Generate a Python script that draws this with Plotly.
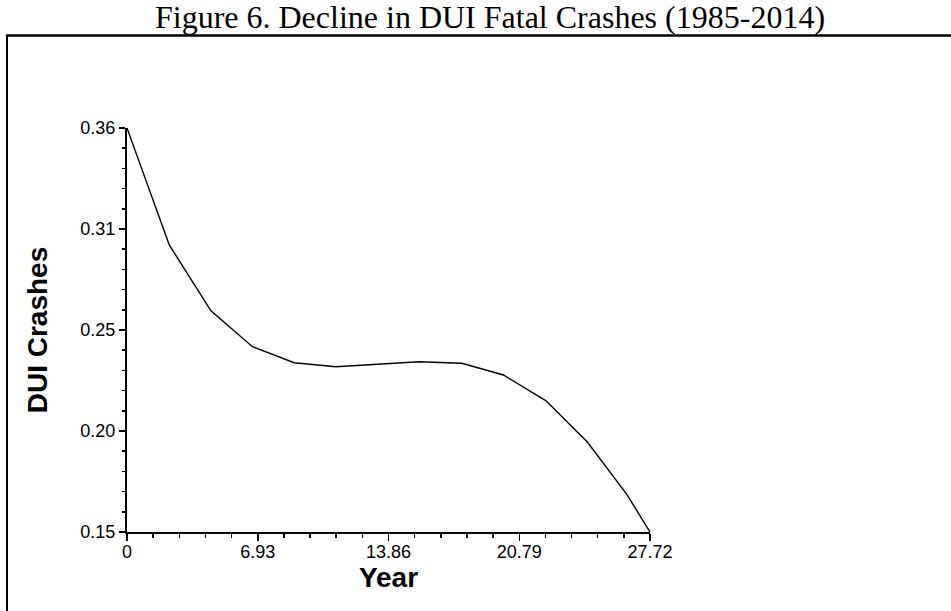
import plotly.graph_objects as go

# ---- data ----
years = [0, 2.24, 4.45, 6.65, 8.86, 11.07, 13.28, 15.48, 17.75, 19.95, 22.21, 24.40, 26.49, 27.72]
crashes = [0.360, 0.2992, 0.2650, 0.2463, 0.2380, 0.2359, 0.2372, 0.2385, 0.2377, 0.2316, 0.2182, 0.1968, 0.1696, 0.150]

x_tickvals = [0, 6.93, 13.86, 20.79, 27.72]
x_ticktext = ["0", "6.93", "13.86", "20.79", "27.72"]
y_tickvals = [0.15, 0.2025, 0.255, 0.3075, 0.36]
y_ticktext = ["0.15", "0.20", "0.25", "0.31", "0.36"]

title_text = "Figure 6. Decline in DUI Fatal Crashes (1985-2014)"
x_title = "Year"
y_title = "DUI Crashes"

# ---- layout geometry (pixels) ----
W, H = 951, 611
L, T = 127, 128
pw, ph = 523, 404
R, B = W - L - pw, H - T - ph

def sx(px):  # screen px -> paper x
    return (px - L) / pw

def sy(py):  # screen px -> paper y
    return (T + ph - py) / ph

fig = go.Figure()
fig.add_trace(go.Scatter(x=years, y=crashes, mode="lines",
                         line=dict(color="black", width=1.4),
                         showlegend=False, hoverinfo="skip", cliponaxis=False))

sans = "Liberation Sans, Arial, sans-serif"
fig.update_layout(
    width=W, height=H,
    margin=dict(l=L, r=R, t=T, b=B, pad=0),
    paper_bgcolor="white", plot_bgcolor="white",
    title=dict(text=title_text, x=490 / W, xanchor="center", xref="container",
               y=1 - 17 / H, yanchor="middle", yref="container",
               font=dict(family="Liberation Serif, Times New Roman, serif", size=32, color="black")),
    xaxis=dict(range=[0, 27.72], tickmode="array", tickvals=x_tickvals, ticktext=x_ticktext,
               showgrid=False, zeroline=False, showline=True, linecolor="black", linewidth=1.6,
               ticks="outside", ticklen=7, tickwidth=1.5, tickcolor="black",
               ticklabelstandoff=-4,
               tickfont=dict(family=sans, size=18, color="black"),
               minor=dict(tick0=0, dtick=1.386, ticks="outside", ticklen=4, tickwidth=1.5, tickcolor="black"),
               title=dict(text="<b>%s</b>" % x_title, font=dict(family=sans, size=28, color="black"), standoff=6)),
    yaxis=dict(range=[0.15, 0.36], tickmode="array", tickvals=y_tickvals, ticktext=y_ticktext,
               showgrid=False, zeroline=False, showline=True, linecolor="black", linewidth=2,
               ticks="outside", ticklen=6, tickwidth=1.5, tickcolor="black",
               ticklabelstandoff=0,
               tickfont=dict(family=sans, size=18, color="black"),
               minor=dict(tick0=0.15, dtick=0.0105, ticks="outside", ticklen=3, tickwidth=1.5, tickcolor="black"),
               title=dict(text="<b>%s</b>" % y_title, font=dict(family=sans, size=28, color="black"), standoff=25)),
)

# frame lines (top and left of the figure box)
fig.add_shape(type="line", xref="paper", yref="paper",
              x0=sx(6), x1=sx(955), y0=sy(35.5), y1=sy(35.5),
              line=dict(color="black", width=2.5))
fig.add_shape(type="line", xref="paper", yref="paper",
              x0=sx(7), x1=sx(7), y0=sy(35.5), y1=sy(615),
              line=dict(color="black", width=2))

# remove the browser's default 8px body margin so the figure fills the window
fig.write_html("out.html",
               config={"displayModeBar": False, "staticPlot": True},
               post_script="document.body.style.margin='0';document.body.style.overflow='hidden';")
